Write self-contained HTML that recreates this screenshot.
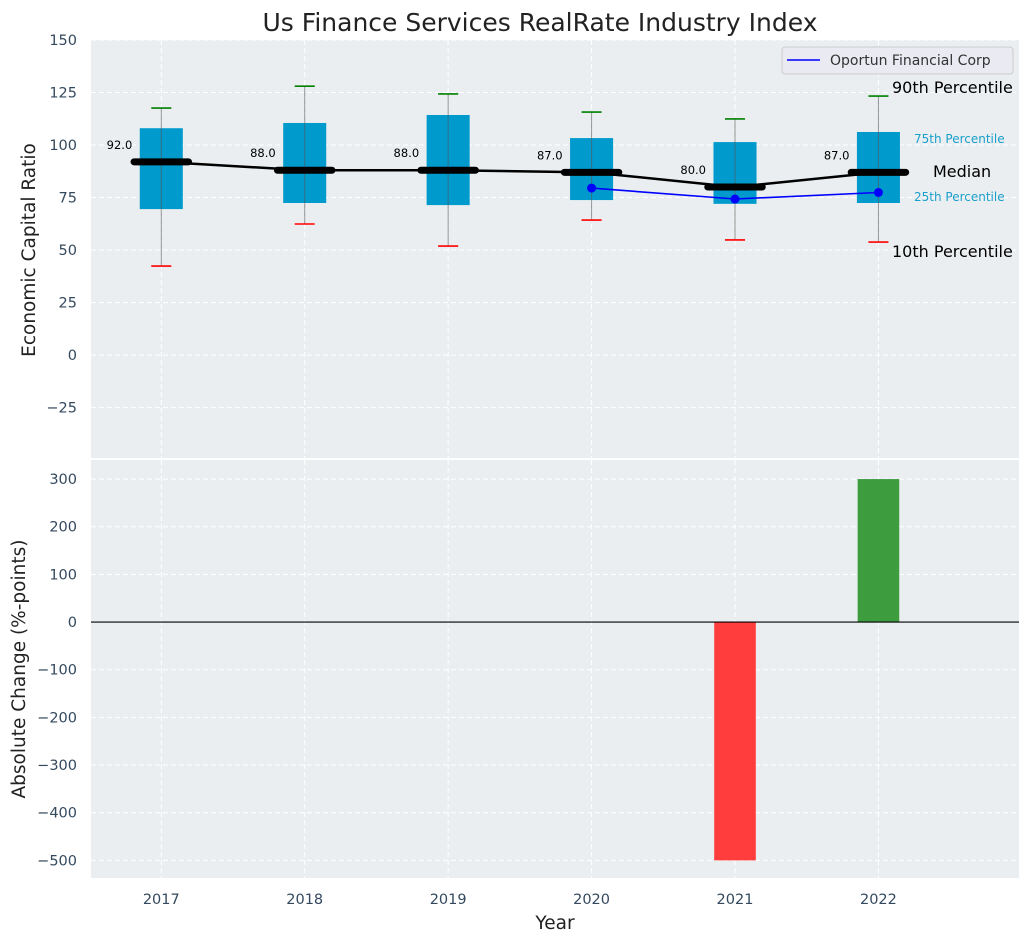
<!DOCTYPE html>
<html><head><meta charset="utf-8"><style>
body{margin:0;background:#fff;}
svg text{font-family:"DejaVu Sans","Liberation Sans",sans-serif;}
</style></head><body>
<svg id="chart" width="1029" height="942" xmlns="http://www.w3.org/2000/svg"></svg>
<script>
const years=[2017,2018,2019,2020,2021,2022];
const p10=[42.4,62.4,51.9,64.3,54.8,53.8];
const p25=[69.5,72.4,71.4,73.8,72,72.4];
const medians=[92,88,88,87,80,87];
const p75=[108,110.5,114.3,103.3,101.4,106.2];
const p90=[117.6,128,124.3,115.7,112.4,123.3];
const companyYears=[2020,2021,2022];
const companyVals=[79.5,74.3,77.4];
const changes=[0,0,0,0,-500,300];
const topTicks=[150,125,100,75,50,25,0,-25];
const botTicks=[300,200,100,0,-100,-200,-300,-400,-500];

const NS='http://www.w3.org/2000/svg';
const svg=document.getElementById('chart');
function el(tag,attrs,parent){const e=document.createElementNS(NS,tag);for(const k in attrs)e.setAttribute(k,attrs[k]);(parent||svg).appendChild(e);return e;}
const X0=91,X1=1019,xmin=2016.51,xmax=2022.98;
const x=v=>X0+(v-xmin)/(xmax-xmin)*(X1-X0);
const T0=40,T1=458,tmax=150,tmin=-49;
const yt=v=>T0+(tmax-v)/(tmax-tmin)*(T1-T0);
const B0=460,B1=878,bmax=340,bmin=-537;
const yb=v=>B0+(bmax-v)/(bmax-bmin)*(B1-B0);

let r=el('rect',{x:X0,y:T0,width:X1-X0,height:T1-T0,fill:'#eaeef0'});

r=el('rect',{x:X0,y:B0,width:X1-X0,height:B1-B0,fill:'#eaeef0'});


years.forEach(yr=>{
  el('line',{x1:x(yr),x2:x(yr),y1:T0,y2:T1,stroke:'#fff','stroke-dasharray':'5,3','stroke-width':1});
  el('line',{x1:x(yr),x2:x(yr),y1:B0,y2:B1,stroke:'#fff','stroke-dasharray':'5,3','stroke-width':1});
  const t=el('text',{x:x(yr),y:904,'text-anchor':'middle','font-size':14.5,fill:'#34495e'});t.textContent=yr;
  
});
topTicks.forEach(v=>{
  el('line',{x1:X0,x2:X1,y1:yt(v),y2:yt(v),stroke:'#fff','stroke-dasharray':'5,3','stroke-width':1});
  const t=el('text',{x:77,y:yt(v)+5,'text-anchor':'end','font-size':14.5,fill:'#34495e'});t.textContent=v<0?'\u2212'+(-v):v;
  
});
botTicks.forEach(v=>{
  el('line',{x1:X0,x2:X1,y1:yb(v),y2:yb(v),stroke:'#fff','stroke-dasharray':'5,3','stroke-width':1});
  const t=el('text',{x:77,y:yb(v)+5,'text-anchor':'end','font-size':14.5,fill:'#34495e'});t.textContent=v<0?'\u2212'+(-v):v;
  
});

const bw=0.3,mw=0.38,cw=0.14;
years.forEach((yr,i)=>{
  const b=el('rect',{x:x(yr-bw/2),y:yt(p75[i]),width:x(yr+bw/2)-x(yr-bw/2),height:yt(p25[i])-yt(p75[i]),fill:'#009acd'});
  
  el('line',{x1:x(yr),x2:x(yr),y1:yt(p90[i]),y2:yt(p10[i]),stroke:'#555','stroke-opacity':0.6,'stroke-width':1});
  const c1=el('line',{x1:x(yr-cw/2),x2:x(yr+cw/2),y1:yt(p90[i]),y2:yt(p90[i]),stroke:'green','stroke-width':1.6});
  
  const c2=el('line',{x1:x(yr-cw/2),x2:x(yr+cw/2),y1:yt(p10[i]),y2:yt(p10[i]),stroke:'red','stroke-width':1.6});
  
});
let pts=years.map((yr,i)=>x(yr)+','+yt(medians[i])).join(' ');
let pl=el('polyline',{points:pts,fill:'none',stroke:'#000','stroke-width':2.5});

years.forEach((yr,i)=>{
  const m=el('line',{x1:x(yr-mw/2),x2:x(yr+mw/2),y1:yt(medians[i]),y2:yt(medians[i]),stroke:'#000','stroke-width':7,'stroke-linecap':'round'});
  
  const t=el('text',{x:x(yr)-29,y:yt(medians[i])-13,'text-anchor':'end','font-size':11.5,fill:'#000'});t.textContent=medians[i].toFixed(1);
  
});
pts=companyYears.map((yr,i)=>x(yr)+','+yt(companyVals[i])).join(' ');
pl=el('polyline',{points:pts,fill:'none',stroke:'#0000ff','stroke-width':1.6});

companyYears.forEach((yr,i)=>{
  const c=el('circle',{cx:x(yr),cy:yt(companyVals[i]),r:4.5,fill:'#0000ff'});
  
});
[['90th Percentile',892,93,16,'#000'],['75th Percentile',914,143,12,'#1a9fcc'],['Median',933,177,16,'#000'],['25th Percentile',914,201,12,'#1a9fcc'],['10th Percentile',892,257,16,'#000']].forEach(a=>{
  const t=el('text',{x:a[1],y:a[2],'font-size':a[3],fill:a[4]});t.textContent=a[0];
  
});
const lg=el('g',{});
el('rect',{x:782,y:47,width:231,height:27,rx:3,fill:'#eaeaf2',stroke:'#ccc'},lg);
el('line',{x1:787,x2:820,y1:60,y2:60,stroke:'#0000ff','stroke-width':1.6},lg);
let t=el('text',{x:830,y:65,'font-size':14,fill:'#333'},lg);t.textContent='Oportun Financial Corp';

years.forEach((yr,i)=>{
  if(!changes[i])return;
  const v=changes[i];
  const b=el('rect',{x:x(yr-0.145),y:Math.min(yb(v),yb(0)),width:x(yr+0.145)-x(yr-0.145),height:Math.abs(yb(v)-yb(0)),fill:v<0?'#ff3d3d':'#3d9c3d'});
  
});
el('line',{x1:X0,x2:X1,y1:yb(0),y2:yb(0),stroke:'#000','stroke-width':1.2});

t=el('text',{x:540,y:31,'text-anchor':'middle','font-size':25,fill:'#222'});t.textContent='Us Finance Services RealRate Industry Index';

t=el('text',{x:555,y:929,'text-anchor':'middle','font-size':18.5,fill:'#222'});t.textContent='Year';

t=el('text',{x:0,y:0,'text-anchor':'middle','font-size':18.5,fill:'#222',transform:'translate(35,250) rotate(-90)'});t.textContent='Economic Capital Ratio';

t=el('text',{x:0,y:0,'text-anchor':'middle','font-size':18.5,fill:'#222',transform:'translate(25,669) rotate(-90)'});t.textContent='Absolute Change (%-points)';

</script>
</body></html>
